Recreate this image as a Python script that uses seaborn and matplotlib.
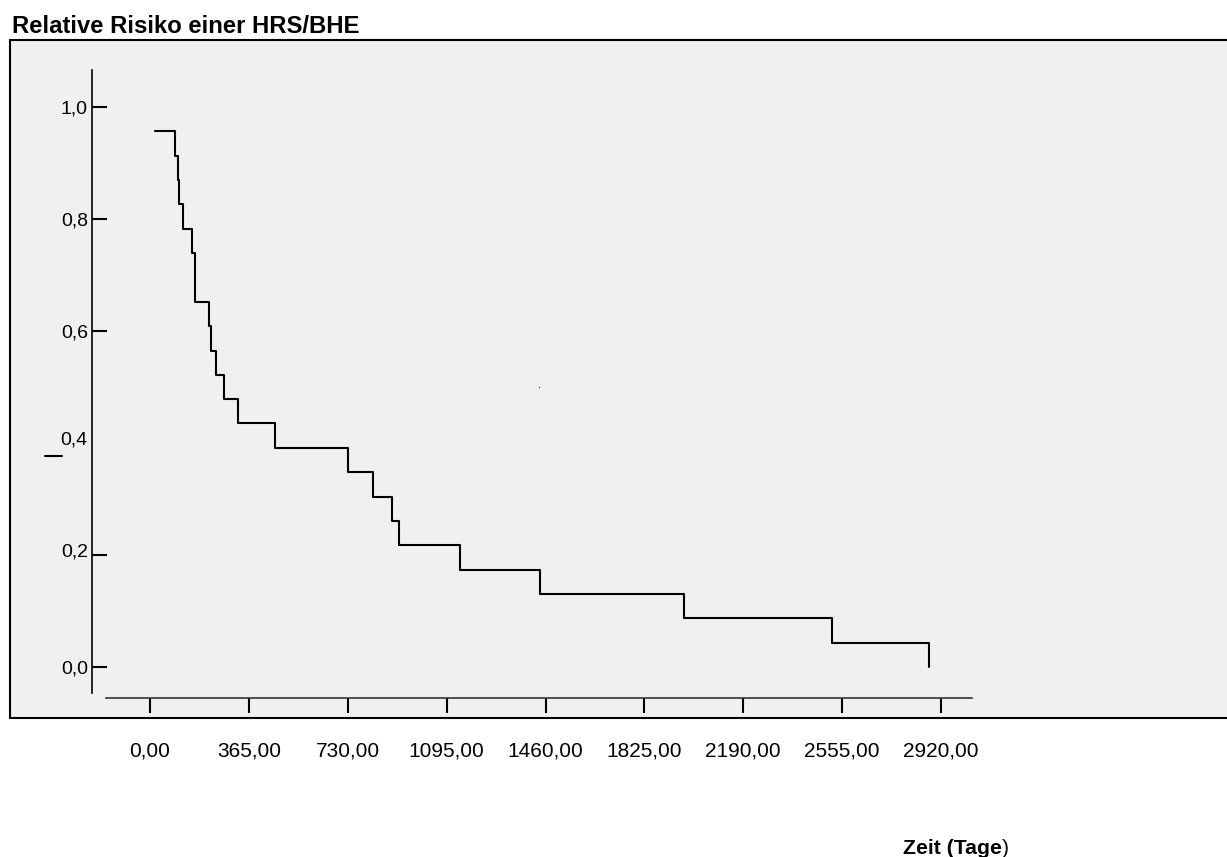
import pandas as pd
import numpy as np
import matplotlib.pyplot as plt
import seaborn as sns
from matplotlib.patches import Rectangle
from matplotlib.lines import Line2D
from matplotlib.transforms import ScaledTranslation

# Kaplan-Meier-Kurve
zeit_tage = [20, 92, 104, 106, 122, 154, 165, 167, 217, 224, 245, 272, 326,
             460, 730, 824, 892, 918, 1144, 1439, 1970, 2519, 2876]
risiko = [0.957, 0.913, 0.870, 0.826, 0.783, 0.739, 0.696, 0.652, 0.609,
          0.565, 0.522, 0.478, 0.435, 0.391, 0.348, 0.304, 0.261, 0.217,
          0.174, 0.130, 0.087, 0.043, 0.0]

x_ticks = [0, 365, 730, 1095, 1460, 1825, 2190, 2555, 2920]
x_ticklabels = ["0,00", "365,00", "730,00", "1095,00", "1460,00",
                "1825,00", "2190,00", "2555,00", "2920,00"]
y_ticks = [0.0, 0.2, 0.4, 0.6, 0.8, 1.0]
y_ticklabels = ["0,0", "0,2", "0,4", "0,6", "0,8", "1,0"]

df = pd.DataFrame({"zeit": zeit_tage, "risiko": risiko})

sns.set_style("white")
plt.rcParams['font.family'] = ['Liberation Sans', 'DejaVu Sans']
plt.rcParams['text.color'] = 'black'
plt.rcParams['xtick.color'] = 'black'
plt.rcParams['ytick.color'] = 'black'

W, H = 1227, 857
fig = plt.figure(figsize=(W / 100, H / 100), dpi=100)

# grauer Rahmen (SPSS-Stil)
fig.add_artist(Rectangle((10 / W, 1 - 718 / H), 1250 / W, 678 / H,
                         transform=fig.transFigure, facecolor='#f0f0f0',
                         edgecolor='black', lw=1.5, zorder=0))

# Achse: Pixel -> Daten
px_per_day = (941 - 150) / 2920
x0_px, y0_px, px_per_unit = 150, 667, 560
left, right, top, bottom = 92, 972, 70, 698
ax = fig.add_axes([left / W, 1 - bottom / H, (right - left) / W, (bottom - top) / H])
ax.set_facecolor('none')

sns.lineplot(data=df, x="zeit", y="risiko", ax=ax, estimator=None, sort=False,
             drawstyle='steps-post', color='black', lw=1.5)

ax.set_xlim((left - x0_px) / px_per_day, (right - x0_px) / px_per_day)
ax.set_ylim((y0_px - bottom) / px_per_unit, (y0_px - top) / px_per_unit)
ax.set_xlabel('')
ax.set_ylabel('')

for s in ['top', 'right']:
    ax.spines[s].set_visible(False)
ax.spines['left'].set_color('black')
ax.spines['left'].set_linewidth(1.2)
ax.spines['left'].set_bounds((y0_px - 693) / px_per_unit, (y0_px - top) / px_per_unit)
ax.spines['bottom'].set_color('#333333')
ax.spines['bottom'].set_linewidth(1.2)
ax.spines['bottom'].set_bounds((106 - x0_px) / px_per_day, (right - x0_px) / px_per_day)

ax.set_xticks(x_ticks)
ax.set_xticklabels(x_ticklabels, fontsize=15)
ax.tick_params(axis='x', bottom=True, direction='out', length=10.5, width=1.5,
               color='black', labelcolor='black', pad=21)
ax.set_yticks(y_ticks)
ax.set_yticklabels(y_ticklabels, fontsize=14)
ax.tick_params(axis='y', left=True, direction='in', length=11, width=1.5,
               color='black', labelcolor='black', pad=3)

# Beschriftungen 0,2 und 0,4 sitzen etwas hoeher
for lab in ax.get_yticklabels()[1:3]:
    lab.set_transform(lab.get_transform() + ScaledTranslation(0, 5 / 100, fig.dpi_scale_trans))

# Tick bei 0,4 ist in der Vorlage verschoben
ax.yaxis.get_major_ticks()[2].tick1line.set_visible(False)
fig.add_artist(Line2D([45 / W, 62 / W], [1 - 456 / H, 1 - 456 / H],
                      transform=fig.transFigure, color='black', lw=1.5))
fig.add_artist(Rectangle((538.5 / W, 1 - 388 / H), 1.5 / W, 1.5 / H,
                         transform=fig.transFigure, facecolor='black', lw=0))

# Titel und Achsenbeschriftung
fig.text(12 / W, 1 - 33 / H, "Relative Risiko einer HRS/BHE", fontsize=17.2,
         fontweight='bold', va='baseline', ha='left', color='black')
t1 = fig.text(903 / W, 1 - 854 / H, "Zeit (Tage", fontsize=15.3,
              fontweight='bold', va='baseline', ha='left', color='black')
ax.annotate(")", xy=(1, 0), xycoords=t1, fontsize=15.3, va='bottom', ha='left',
            color='black', annotation_clip=False)

fig.savefig("out.png", dpi=100)
